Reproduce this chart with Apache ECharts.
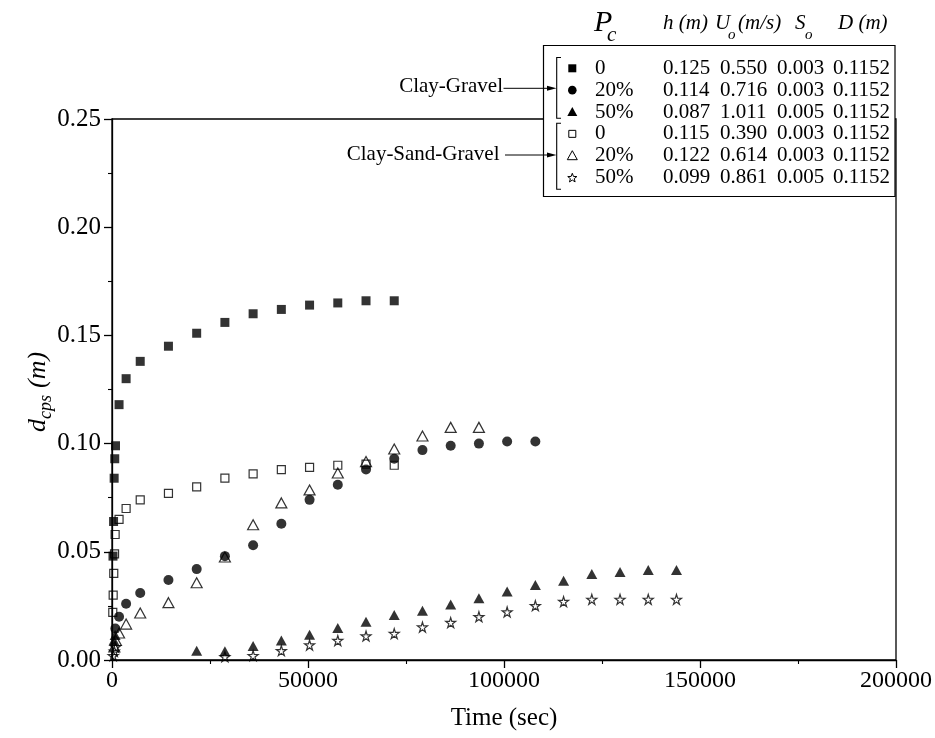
<!DOCTYPE html>
<html>
<head>
<meta charset="utf-8">
<script src="https://cdn.jsdelivr.net/npm/echarts@6/dist/echarts.min.js"></script>
<style>html,body{margin:0;padding:0;background:#fff}#c{width:935px;height:738px}</style>
</head>
<body>
<div id="c"></div>
<script>
// ---------- data ----------
const xTickLabels = ['0', '50000', '100000', '150000', '200000'];
const yTickLabels = ['0.00', '0.05', '0.10', '0.15', '0.20', '0.25'];

// Clay-Gravel, Pc = 0 (filled squares)
const cg0Time = [250, 400, 550, 700, 900, 1800, 3600, 7200, 14400, 21600, 28800, 36000, 43200, 50400, 57600, 64800, 72000];
const cg0Depth = [0.048, 0.064, 0.084, 0.093, 0.099, 0.118, 0.130, 0.138, 0.145, 0.151, 0.156, 0.160, 0.162, 0.164, 0.165, 0.166, 0.166];
// Clay-Gravel, Pc = 20% (filled circles)
const cg20Time = [850, 1800, 3600, 7200, 14400, 21600, 28800, 36000, 43200, 50400, 57600, 64800, 72000, 79200, 86400, 93600, 100800, 108000];
const cg20Depth = [0.0145, 0.020, 0.026, 0.031, 0.037, 0.042, 0.048, 0.053, 0.063, 0.074, 0.081, 0.088, 0.093, 0.097, 0.099, 0.100, 0.101, 0.101];
// Clay-Gravel, Pc = 50% (filled triangles)
const cg50Time = [500, 800, 21600, 28800, 36000, 43200, 50400, 57600, 64800, 72000, 79200, 86400, 93600, 100800, 108000, 115200, 122400, 129600, 136800, 144000];
const cg50Depth = [0.009, 0.0115, 0.0043, 0.0040, 0.0065, 0.0090, 0.0117, 0.0148, 0.0177, 0.0208, 0.0228, 0.0256, 0.0285, 0.0316, 0.0347, 0.0366, 0.0397, 0.0407, 0.0416, 0.0416];
// Clay-Sand-Gravel, Pc = 0 (open squares)
const csg0Time = [200, 300, 450, 650, 800, 1800, 3600, 7200, 14400, 21600, 28800, 36000, 43200, 50400, 57600, 64800, 72000];
const csg0Depth = [0.022, 0.030, 0.040, 0.049, 0.058, 0.065, 0.070, 0.074, 0.077, 0.080, 0.084, 0.086, 0.088, 0.089, 0.090, 0.0905, 0.090];
// Clay-Sand-Gravel, Pc = 20% (open triangles)
const csg20Time = [600, 1000, 1800, 3600, 7200, 14400, 21600, 28800, 36000, 43200, 50400, 57600, 64800, 72000, 79200, 86400, 93600];
const csg20Depth = [0.006, 0.009, 0.0125, 0.0166, 0.0217, 0.0265, 0.0357, 0.0476, 0.0625, 0.0726, 0.0786, 0.0864, 0.0917, 0.0975, 0.1035, 0.1075, 0.1075];
// Clay-Sand-Gravel, Pc = 50% (open stars)
const csg50Time = [300, 600, 900, 28800, 36000, 43200, 50400, 57600, 64800, 72000, 79200, 86400, 93600, 100800, 108000, 115200, 122400, 129600, 136800, 144000];
const csg50Depth = [0.002, 0.004, 0.006, 0.0015, 0.002, 0.0043, 0.0069, 0.009, 0.0111, 0.0122, 0.0152, 0.0173, 0.020, 0.0222, 0.0251, 0.027, 0.028, 0.028, 0.028, 0.028];

// legend table
const pcLabels = ['0', '20%', '50%', '0', '20%', '50%'];
const hVals = ['0.125', '0.114', '0.087', '0.115', '0.122', '0.099'];
const uVals = ['0.550', '0.716', '1.011', '0.390', '0.614', '0.861'];
const sVals = ['0.003', '0.003', '0.005', '0.003', '0.003', '0.005'];
const dVals = ['0.1152', '0.1152', '0.1152', '0.1152', '0.1152', '0.1152'];

// ---------- chart ----------
const FONT = '"Liberation Serif","Times New Roman",serif';
const zip = (t, d) => t.map((v, i) => [v, d[i]]);
const STAR = 'path://M50,0 L61,35 L98,35 L68,57 L79,91 L50,70 L21,91 L32,57 L2,35 L39,35 Z';

const filled = { color: '#000' };
const open = { color: 'rgba(255,255,255,0)', borderColor: '#000', borderWidth: 1.2 };

const chart = echarts.init(document.getElementById('c'), null, { renderer: 'canvas' });

// legend graphic
const g = [];
const rowY = i => 68.3 + i * 21.85;
const SX = 572.3;
g.push({ type: 'rect', z: 100, shape: { x: 543.5, y: 45.5, width: 351.5, height: 151 }, style: { fill: '#fff', stroke: '#000', lineWidth: 1.2 } });
// header
const hdr = (txt, x, y, size) => ({ type: 'text', z: 101, x: x, y: y, style: { text: txt, font: 'italic ' + size + 'px ' + FONT, fill: '#000', verticalAlign: 'middle', align: 'left' } });
g.push(hdr('P', 594, 23, 30));
g.push(hdr('c', 607, 35, 21));
g.push(hdr('h (m)', 663, 23, 21));
g.push(hdr('U', 715, 23, 21));
g.push(hdr('o', 728, 35, 15));
g.push(hdr('(m/s)', 738, 23, 21));
g.push(hdr('S', 795, 23, 21));
g.push(hdr('o', 805, 35, 15));
g.push(hdr('D (m)', 838, 23, 21));
// rows
const cell = (txt, x, y) => ({ type: 'text', z: 101, x: x, y: y, style: { text: txt, font: '21px ' + FONT, fill: '#000', verticalAlign: 'middle', align: 'left' } });
for (let i = 0; i < 6; i++) {
  const y = rowY(i);
  g.push(cell(pcLabels[i], 595, y));
  g.push(cell(hVals[i], 663, y));
  g.push(cell(uVals[i], 720, y));
  g.push(cell(sVals[i], 777, y));
  g.push(cell(dVals[i], 833, y));
}
// legend markers
g.push({ type: 'rect', z: 101, shape: { x: SX - 4, y: rowY(0) - 4, width: 8, height: 8 }, style: { fill: '#000' } });
g.push({ type: 'circle', z: 101, shape: { cx: SX, cy: rowY(1), r: 4.3 }, style: { fill: '#000' } });
g.push({ type: 'polygon', z: 101, shape: { points: [[SX, rowY(2) - 5], [SX - 5, rowY(2) + 4], [SX + 5, rowY(2) + 4]] }, style: { fill: '#000' } });
g.push({ type: 'rect', z: 101, shape: { x: SX - 3.5, y: rowY(3) - 3.5, width: 7, height: 7 }, style: { fill: 'none', stroke: '#000', lineWidth: 1 } });
g.push({ type: 'polygon', z: 101, shape: { points: [[SX, rowY(4) - 5], [SX - 5, rowY(4) + 4], [SX + 5, rowY(4) + 4]] }, style: { fill: 'none', stroke: '#000', lineWidth: 1 } });
(function () {
  const pts = [];
  const cy = rowY(5) + 0.5;
  for (let k = 0; k < 10; k++) {
    const r = k % 2 === 0 ? 4.8 : 2.0;
    const a = -Math.PI / 2 + k * Math.PI / 5;
    pts.push([SX + r * Math.cos(a), cy + r * Math.sin(a)]);
  }
  g.push({ type: 'polygon', z: 101, shape: { points: pts }, style: { fill: 'none', stroke: '#000', lineWidth: 1 } });
})();
// brackets
g.push({ type: 'polyline', z: 101, shape: { points: [[561, 57.5], [556.7, 57.5], [556.7, 118.3], [561, 118.3]] }, style: { stroke: '#000', lineWidth: 1.1, fill: 'none' } });
g.push({ type: 'polyline', z: 101, shape: { points: [[561, 123.3], [556.7, 123.3], [556.7, 189.3], [561, 189.3]] }, style: { stroke: '#000', lineWidth: 1.1, fill: 'none' } });
// group labels + arrows
const grpLbl = (txt, x, y) => ({ type: 'text', z: 101, x: x, y: y, style: { text: txt, font: '21px ' + FONT, fill: '#000', verticalAlign: 'middle', align: 'right' } });
g.push(grpLbl('Clay-Gravel', 503, 86.5));
g.push(grpLbl('Clay-Sand-Gravel', 499.5, 154));
g.push({ type: 'line', z: 101, shape: { x1: 503.5, y1: 88.3, x2: 550, y2: 88.3 }, style: { stroke: '#000', lineWidth: 1 } });
g.push({ type: 'polygon', z: 101, shape: { points: [[547, 85.8], [556.5, 88.3], [547, 90.8]] }, style: { fill: '#000' } });
g.push({ type: 'line', z: 101, shape: { x1: 505, y1: 155, x2: 550, y2: 155 }, style: { stroke: '#000', lineWidth: 1 } });
g.push({ type: 'polygon', z: 101, shape: { points: [[547, 152.5], [556.5, 155], [547, 157.5]] }, style: { fill: '#000' } });
// y axis title with subscript (rotated)
g.push({
  type: 'group', x: 38, y: 391, rotation: Math.PI / 2, z: 50,
  children: [
    { type: 'text', x: -41, y: 0, style: { text: 'd', font: 'italic 26px ' + FONT, fill: '#000', verticalAlign: 'middle', align: 'left' } },
    { type: 'text', x: -28, y: 8, style: { text: 'cps', font: 'italic 18px ' + FONT, fill: '#000', verticalAlign: 'middle', align: 'left' } },
    { type: 'text', x: 3, y: 0, style: { text: '(m)', font: 'italic 26px ' + FONT, fill: '#000', verticalAlign: 'middle', align: 'left' } }
  ]
});

const axisCommon = {
  axisLine: { show: true, onZero: false, lineStyle: { color: '#000', width: 1.3 } },
  axisTick: { show: true, inside: false, length: 8, lineStyle: { color: '#000', width: 1.3 } },
  minorTick: { show: true, splitNumber: 2, length: 4, lineStyle: { color: '#000', width: 1.1 } },
  splitLine: { show: false },
  minorSplitLine: { show: false }
};

const option = {
  backgroundColor: '#fff',
  animation: false,
  grid: { left: 112, right: 39, top: 119, bottom: 78, show: true, borderColor: '#000', borderWidth: 1.3, backgroundColor: 'transparent' },
  xAxis: Object.assign({
    type: 'value', min: 0, max: 200000, interval: 50000,
    name: 'Time (sec)', nameLocation: 'middle', nameGap: 46,
    nameTextStyle: { fontFamily: FONT, fontSize: 25, color: '#000' },
    axisLabel: { fontFamily: FONT, fontSize: 24, color: '#000', margin: 9,
      formatter: v => xTickLabels[Math.round(v / 50000)] }
  }, axisCommon),
  yAxis: Object.assign({
    type: 'value', min: 0, max: 0.25, interval: 0.05,
    axisLabel: { fontFamily: FONT, fontSize: 25, color: '#000', margin: 11,
      formatter: v => yTickLabels[Math.round(v / 0.05)] }
  }, axisCommon),
  graphic: g,
  series: [
    { name: 'CG 0', type: 'scatter', symbol: 'rect', symbolSize: 9, itemStyle: filled, data: zip(cg0Time, cg0Depth), z: 2 },
    { name: 'CG 20%', type: 'scatter', symbol: 'circle', symbolSize: 10, itemStyle: filled, data: zip(cg20Time, cg20Depth), z: 2 },
    { name: 'CG 50%', type: 'scatter', symbol: 'triangle', symbolSize: [11, 10], itemStyle: filled, data: zip(cg50Time, cg50Depth), z: 2 },
    { name: 'CSG 0', type: 'scatter', symbol: 'rect', symbolSize: 8, itemStyle: open, data: zip(csg0Time, csg0Depth), z: 3 },
    { name: 'CSG 20%', type: 'scatter', symbol: 'triangle', symbolSize: [11, 10], itemStyle: open, data: zip(csg20Time, csg20Depth), z: 3 },
    { name: 'CSG 50%', type: 'scatter', symbol: STAR, symbolSize: 10, itemStyle: open, data: zip(csg50Time, csg50Depth), z: 3 }
  ]
};
chart.setOption(option);
</script>
</body>
</html>
